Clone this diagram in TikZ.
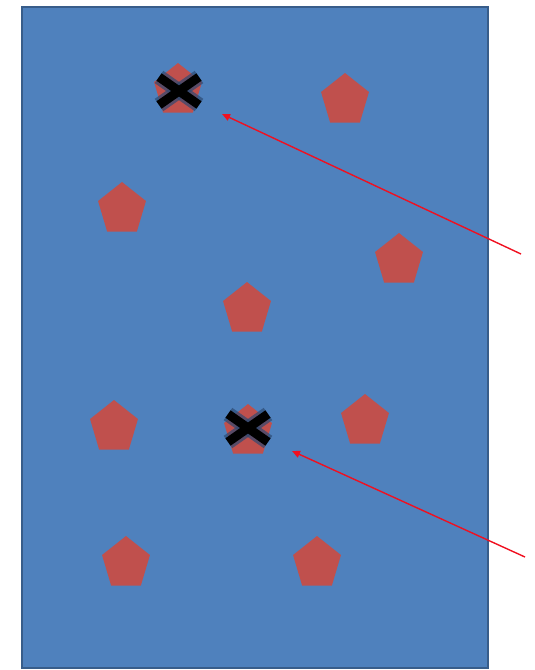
\documentclass[tikz,border=0pt]{standalone}
\usetikzlibrary{shapes.geometric,arrows.meta}
\definecolor{bgblue}{HTML}{4F81BD}
\definecolor{bgborder}{HTML}{385D8A}
\definecolor{pentred}{HTML}{C0504D}
\definecolor{glowblue}{HTML}{2C4A73}
\definecolor{arrowred}{HTML}{F01020}
\tikzset{
  pent/.style={regular polygon, regular polygon sides=5, minimum size=50.4pt,
    inner sep=0pt, fill=pentred, draw=none, yscale=1.09, transform shape},
  xglow/.style={line width=15pt, draw=glowblue, opacity=0.7},
  xmark/.style={line width=9pt, draw=black},
  redarrow/.style={draw=arrowred, line width=1.4pt, -{Triangle[length=8pt,width=7pt]}}
}
\begin{document}
\begin{tikzpicture}[x=1pt,y=-1pt]
\useasboundingbox (0,0) rectangle (535,670);
\node[draw=bgborder, fill=bgblue, line width=2pt, minimum width=466pt, minimum height=661pt,
  inner sep=0pt, anchor=north west] (board) at (21,6) {};
% pentagons (center = circumcenter)
\node[pent] (p1) at (178,90.5) {};
\node[pent] (p2) at (345,100.5) {};
\node[pent] (p3) at (122,209.5) {};
\node[pent] (p4) at (399,260.5) {};
\node[pent] (p5) at (247,309.5) {};
\node[pent] (p6) at (114,427.5) {};
\node[pent] (p7) at (248,431.5) {};
\node[pent] (p8) at (365,421.5) {};
\node[pent] (p9) at (126,563.5) {};
\node[pent] (p10) at (317,563.5) {};
% crosses
\foreach \cx/\cy in {179/91, 248/428}{
  \begin{scope}[shift={(\cx,\cy)}]
    \draw[xglow] (-20,-14) -- (20,14);
    \draw[xglow] (-20,14) -- (20,-14);
    \draw[xmark] (-20,-14) -- (20,14);
    \draw[xmark] (-20,14) -- (20,-14);
  \end{scope}
}
% arrows
\coordinate (t1) at (521,254);
\coordinate (h1) at (222,114);
\coordinate (t2) at (525,557);
\coordinate (h2) at (292,451);
\draw[redarrow] (t1) -- (h1);
\draw[redarrow] (t2) -- (h2);
\end{tikzpicture}
\end{document}
